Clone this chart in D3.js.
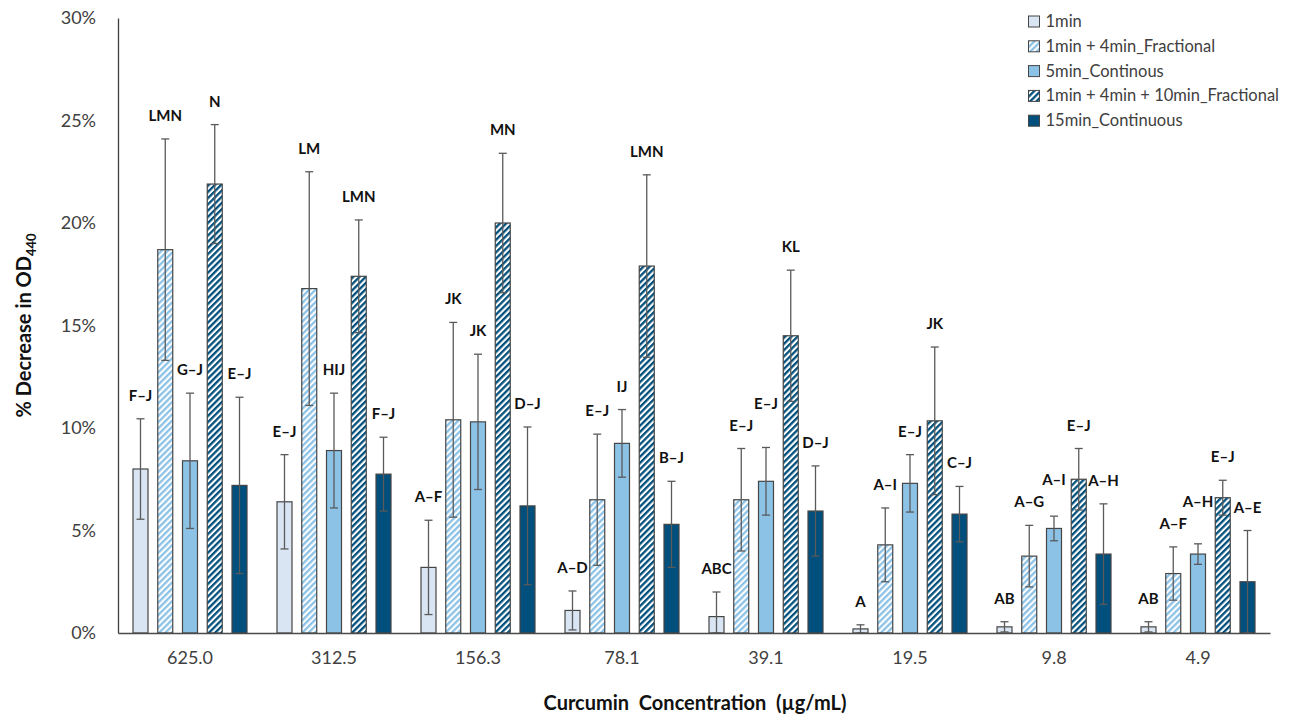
<!DOCTYPE html>
<html>
<head>
<meta charset="utf-8">
<script src="https://cdn.jsdelivr.net/npm/d3@7"></script>
<style>
  html, body { margin: 0; padding: 0; background: #ffffff; }
  svg { display: block; }
</style>
</head>
<body>
<script>
// ---------- data ----------
const categories = ["625.0", "312.5", "156.3", "78.1", "39.1", "19.5", "9.8", "4.9"];
const seriesNames = ["1min", "1min + 4min_Fractional", "5min_Continous", "1min + 4min + 10min_Fractional", "15min_Continuous"];

// mean % decrease in OD440
const val1min   = [8.0, 6.4, 3.2, 1.1, 0.8, 0.2, 0.3, 0.3];
const valFrac4  = [18.7, 16.8, 10.4, 6.5, 6.5, 4.3, 3.75, 2.9];
const valCont5  = [8.4, 8.9, 10.3, 9.25, 7.4, 7.3, 5.1, 3.85];
const valFrac10 = [21.9, 17.4, 20.0, 17.9, 14.5, 10.35, 7.5, 6.6];
const valCont15 = [7.2, 7.75, 6.2, 5.3, 5.95, 5.8, 3.85, 2.5];

// error bar half-widths
const err1min   = [2.45, 2.3, 2.3, 0.95, 1.2, 0.2, 0.25, 0.25];
const errFrac4  = [5.4, 5.7, 4.75, 3.2, 2.5, 1.8, 1.5, 1.3];
const errCont5  = [3.3, 2.8, 3.3, 1.65, 1.65, 1.4, 0.6, 0.5];
const errFrac10 = [2.9, 2.75, 3.4, 4.45, 3.2, 3.6, 1.5, 0.85];
const errCont15 = [4.3, 1.8, 3.85, 2.1, 2.2, 1.35, 2.45, 2.5];

// significance letters
const lab1min   = ["F–J", "E–J", "A–F", "A–D", "ABC", "A", "AB", "AB"];
const labFrac4  = ["LMN", "LM", "JK", "E–J", "E–J", "A–I", "A–G", "A–F"];
const labCont5  = ["G–J", "HIJ", "JK", "IJ", "E–J", "E–J", "A–I", "A–H"];
const labFrac10 = ["N", "LMN", "MN", "LMN", "KL", "JK", "E–J", "E–J"];
const labCont15 = ["E–J", "F–J", "D–J", "B–J", "D–J", "C–J", "A–H", "A–E"];

const yTicks = [0, 5, 10, 15, 20, 25, 30];
const yTickLabels = ["0%", "5%", "10%", "15%", "20%", "25%", "30%"];

(function () {
// ---------- build table ----------
const allVals = [val1min, valFrac4, valCont5, valFrac10, valCont15];
const allErrs = [err1min, errFrac4, errCont5, errFrac10, errCont15];
const allLabs = [lab1min, labFrac4, labCont5, labFrac10, labCont15];
const rows = [];
categories.forEach((c, ci) => {
  seriesNames.forEach((s, si) => {
    rows.push({ cat: c, ci, series: s, si, v: allVals[si][ci], e: allErrs[si][ci], lab: allLabs[si][ci] });
  });
});

// ---------- layout ----------
const W = 1290, H = 719;
const mL = 118, mR = 1270, mT = 18, mB = 633;

const svg = d3.select("body").append("svg").attr("width", W).attr("height", H);
const defs = svg.append("defs");

function stripe(id, color) {
  const p = defs.append("pattern")
    .attr("id", id).attr("patternUnits", "userSpaceOnUse")
    .attr("width", 4.4).attr("height", 4.4)
    .attr("patternTransform", "rotate(45)");
  p.append("rect").attr("width", 4.4).attr("height", 4.4).attr("fill", "#ffffff");
  p.append("rect").attr("width", 2.3).attr("height", 4.4).attr("fill", color);
}
stripe("hatchLight", "#8cc2e6");
stripe("hatchDark", "#004f7c");

const fills = ["#dae5f3", "url(#hatchLight)", "#8cc2e6", "url(#hatchDark)", "#004f7c"];

const x0 = d3.scaleBand().domain(categories).range([mL, mR]).padding(0);
const x1 = d3.scaleBand().domain(seriesNames).range([0, x0.bandwidth()])
  .paddingInner(0.394).paddingOuter(0.606);
const y = d3.scaleLinear().domain([0, 30]).range([mB, mT]);

const font = "Lato, 'Open Sans', sans-serif";

// axes
const yAxis = d3.axisLeft(y).tickValues(yTicks).tickFormat((d, i) => yTickLabels[i]).tickSize(0).tickPadding(22);
const gy = svg.append("g").attr("transform", `translate(${mL},0)`).call(yAxis);
gy.select(".domain").attr("stroke", "#3f3f3f").attr("stroke-width", 1.3);
gy.selectAll("text").attr("font-family", font).attr("font-size", 18).attr("fill", "#404040");

// bars
const gBars = svg.append("g");
gBars.selectAll("rect").data(rows).join("rect")
  .attr("x", d => x0(d.cat) + x1(d.series))
  .attr("y", d => y(d.v))
  .attr("width", x1.bandwidth())
  .attr("height", d => y(0) - y(d.v))
  .attr("fill", d => fills[d.si])
  .attr("stroke", "#454545")
  .attr("stroke-width", 1.2);

// error bars
const cap = 4;
const gErr = svg.append("g").attr("stroke", "#5a5a5a").attr("stroke-width", 1.3);
rows.forEach(d => {
  const cx = x0(d.cat) + x1(d.series) + x1.bandwidth() / 2;
  const hi = y(d.v + d.e), lo = y(Math.max(0, d.v - d.e));
  gErr.append("line").attr("x1", cx).attr("x2", cx).attr("y1", hi).attr("y2", lo);
  gErr.append("line").attr("x1", cx - cap).attr("x2", cx + cap).attr("y1", hi).attr("y2", hi);
  gErr.append("line").attr("x1", cx - cap).attr("x2", cx + cap).attr("y1", lo).attr("y2", lo);
});

// x axis (drawn on top of bars)
const xAxis = d3.axisBottom(x0).tickSize(0).tickPadding(18);
const gx = svg.append("g").attr("transform", `translate(0,${mB})`).call(xAxis);
gx.select(".domain").attr("stroke", "#4a4a4a").attr("stroke-width", 1.3);
gx.selectAll("text").attr("font-family", font).attr("font-size", 18).attr("fill", "#404040");

// letter labels (lifted when they would collide with the neighbour on the left)
const labels = svg.append("g").selectAll("text").data(rows).join("text")
  .attr("x", d => x0(d.cat) + x1(d.series) + x1.bandwidth() / 2)
  .attr("y", d => y(d.v + d.e) - 18)
  .attr("text-anchor", "middle")
  .attr("font-family", font).attr("font-weight", "bold").attr("font-size", 15)
  .attr("fill", "#111111")
  .text(d => d.lab);
const nodes = labels.nodes();
for (let i = 1; i < nodes.length; i++) {
  if (rows[i].ci !== rows[i - 1].ci) continue;
  const a = nodes[i - 1].getBBox(), b = nodes[i].getBBox();
  const hOverlap = b.x < a.x + a.width + 1 && a.x < b.x + b.width + 1;
  const vOverlap = b.y < a.y + a.height && a.y < b.y + b.height;
  if (hOverlap && vOverlap) {
    const ya = +nodes[i - 1].getAttribute("y");
    const yb = +nodes[i].getAttribute("y");
    nodes[i].setAttribute("y", Math.min(yb, ya - 22));
  }
}

// y title
const yt = svg.append("text")
  .attr("transform", `translate(31,${(mT + mB) / 2}) rotate(-90)`)
  .attr("text-anchor", "middle")
  .attr("font-family", font).attr("font-weight", "bold").attr("font-size", 20)
  .attr("fill", "#111111");
yt.append("tspan").text("% Decrease in OD");
yt.append("tspan").attr("font-size", 13).attr("dy", 5).text("440");

// x title
svg.append("text")
  .attr("x", (mL + mR) / 2 + 1).attr("y", 710)
  .attr("text-anchor", "middle")
  .attr("font-family", font).attr("font-weight", "bold").attr("font-size", 20)
  .attr("fill", "#111111")
  .style("white-space", "pre")
  .text("Curcumin  Concentration  (µg/mL)");

// legend
const lg = svg.append("g");
const items = lg.selectAll("g").data(seriesNames).join("g")
  .attr("transform", (d, i) => `translate(0,${i * 24.8})`);
items.append("rect").attr("x", 0).attr("y", -11).attr("width", 11).attr("height", 11)
  .attr("fill", (d, i) => fills[i]).attr("stroke", "#454545").attr("stroke-width", 1);
items.append("text").attr("x", 17).attr("y", 0)
  .attr("font-family", font).attr("font-size", 16.5).attr("fill", "#404040")
  .text(d => d);
let maxW = 0;
items.selectAll("text").each(function () { maxW = Math.max(maxW, this.getComputedTextLength()); });
lg.attr("transform", `translate(${1279 - 17 - maxW},27)`);
})();
</script>
</body>
</html>
